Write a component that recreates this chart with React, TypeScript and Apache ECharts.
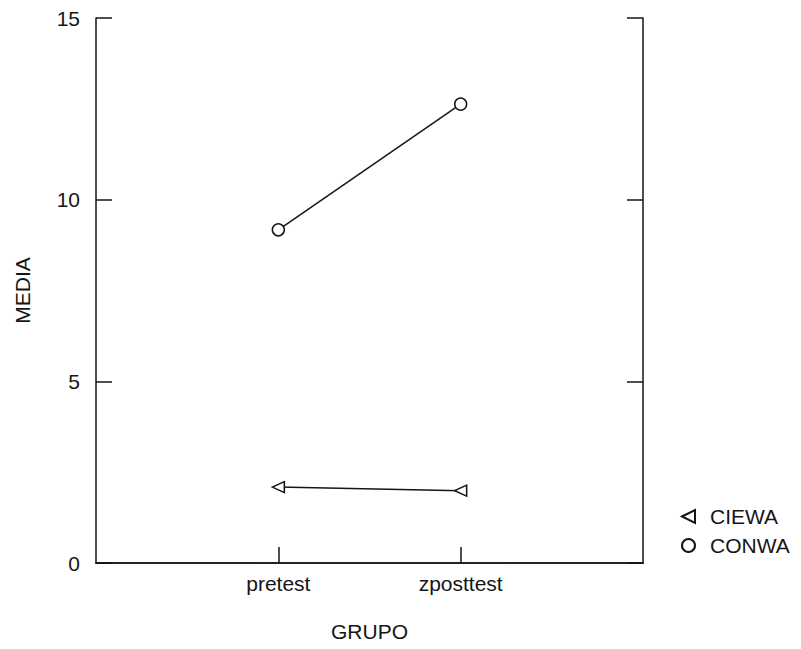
import React, { useEffect, useRef } from "react";
import * as echarts from "echarts";

const groups = ["pretest", "zposttest"];
const ciewa = [2.09, 1.99];
const conwa = [9.17, 12.63];
const yTicks = [0, 5, 10, 15];

const FONT = "'Liberation Sans', Arial, Helvetica, sans-serif";
const INK = "#151515";
const TRI = "path://M0,6L12,0L12,12Z";

export default function App() {
  const ref = useRef<HTMLDivElement>(null);
  useEffect(() => {
    if (!ref.current) return;
    const chart = echarts.init(ref.current, null, { renderer: "svg" });
    const cats = ["", ...groups, ""];
    const tickIdx = (i: number) => i > 0 && i < cats.length - 1;
    chart.setOption({
      animation: false,
      backgroundColor: "#ffffff",
      textStyle: { fontFamily: FONT, color: INK },
      grid: { left: 96, top: 18, width: 547, height: 545, containLabel: false },
      legend: {
        orient: "vertical",
        left: 676,
        top: 501,
        itemWidth: 13,
        itemHeight: 13,
        itemGap: 8,
        textStyle: { fontFamily: FONT, fontSize: 21, color: INK, padding: [0, 0, 0, 10] },
        data: [
          { name: "CIEWA", icon: TRI },
          { name: "CONWA", icon: "circle" },
        ],
      },
      xAxis: [
        {
          type: "category",
          data: cats,
          boundaryGap: false,
          position: "bottom",
          name: "GRUPO",
          nameLocation: "middle",
          nameGap: 58,
          nameTextStyle: { fontFamily: FONT, fontSize: 21, color: INK },
          axisLine: { show: true, lineStyle: { color: INK, width: 1.5 } },
          axisTick: { show: true, inside: true, length: 16, interval: (i: number) => tickIdx(i), lineStyle: { color: INK, width: 1.5 } },
          axisLabel: { show: true, interval: 0, fontFamily: FONT, fontSize: 21, color: INK, margin: 10 },
          splitLine: { show: false },
        },
        {
          type: "category",
          data: cats,
          boundaryGap: false,
          position: "top",
          axisLine: { show: true, lineStyle: { color: INK, width: 1.5 } },
          axisTick: { show: false },
          axisLabel: { show: false },
          splitLine: { show: false },
        },
      ],
      yAxis: [
        {
          type: "value",
          min: yTicks[0],
          max: yTicks[yTicks.length - 1],
          interval: 5,
          position: "left",
          name: "MEDIA",
          nameLocation: "middle",
          nameGap: 63,
          nameRotate: 90,
          nameTextStyle: { fontFamily: FONT, fontSize: 21, color: INK },
          axisLine: { show: true, lineStyle: { color: INK, width: 1.5 } },
          axisTick: { show: true, inside: true, length: 16, lineStyle: { color: INK, width: 1.5 } },
          axisLabel: { fontFamily: FONT, fontSize: 21, color: INK, margin: 16 },
          splitLine: { show: false },
        },
        {
          type: "value",
          min: yTicks[0],
          max: yTicks[yTicks.length - 1],
          interval: 5,
          position: "right",
          axisLine: { show: true, lineStyle: { color: INK, width: 1.5 } },
          axisTick: { show: true, inside: true, length: 16, lineStyle: { color: INK, width: 1.5 } },
          axisLabel: { show: false },
          splitLine: { show: false },
        },
      ],
      series: [
        {
          name: "CIEWA",
          type: "line",
          data: groups.map((g, i) => [g, ciewa[i]]),
          symbol: TRI,
          symbolSize: [12, 11],
          showAllSymbol: true,
          lineStyle: { color: INK, width: 1.5 },
          itemStyle: { color: "#ffffff", borderColor: INK, borderWidth: 1.5 },
          z: 3,
        },
        {
          name: "CONWA",
          type: "line",
          data: groups.map((g, i) => [g, conwa[i]]),
          symbol: "circle",
          symbolSize: 12,
          showAllSymbol: true,
          lineStyle: { color: INK, width: 1.5 },
          itemStyle: { color: "#ffffff", borderColor: INK, borderWidth: 1.5 },
          z: 3,
        },
      ],
    });
    return () => chart.dispose();
  }, []);
  return (
    <div
      ref={ref}
      style={{ position: "fixed", left: 0, top: 0, width: 801, height: 649, background: "#fff" }}
    />
  );
}
